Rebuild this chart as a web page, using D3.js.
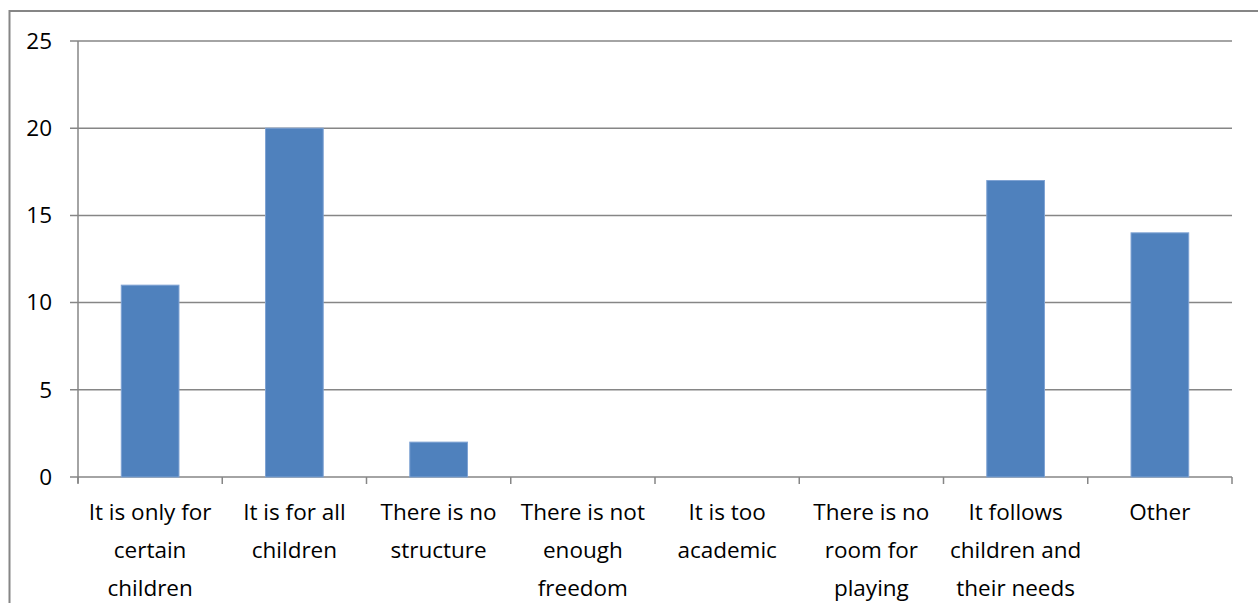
<!DOCTYPE html>
<html><head><meta charset="utf-8">
<script src="https://cdn.jsdelivr.net/npm/d3@7"></script>
<style>body{margin:0;background:#fff}svg{display:block}text{font-family:"Open Sans",sans-serif;fill:#000}</style>
</head><body><svg id="c" width="1258" height="603"></svg>
<script>
const categories = [["It is only for","certain","children"],["It is for all","children"],["There is no","structure"],["There is not","enough","freedom"],["It is too","academic"],["There is no","room for","playing"],["It follows","children and","their needs"],["Other"]];
const values = [11,20,2,0,0,0,17,14];
const yTicks = [0,5,10,15,20,25];

const svg = d3.select("#c");
const L=78,R=1232,T=41,B=477;
const FS=22.5;
svg.append("rect").attr("x",9.5).attr("y",11).attr("width",1260).attr("height",620).attr("fill","none").attr("stroke","#868686").attr("stroke-width",2);
const x = d3.scaleBand().domain(d3.range(categories.length)).range([L,R]).paddingInner(0.6).paddingOuter(0.3);
const xb = d3.scaleBand().domain(d3.range(categories.length)).range([L,R]);
const y = d3.scaleLinear().domain([0,25]).range([B,T]);

const g = svg.append("g");
yTicks.forEach(t=>{
  g.append("line").attr("x1",70).attr("x2",R).attr("y1",y(t)).attr("y2",y(t)).attr("stroke","#868686").attr("stroke-width",1.5);
  g.append("text").attr("x",52).attr("y",y(t)).attr("dy","0.35em").attr("text-anchor","end").attr("font-size",FS).text(t);
});
g.append("line").attr("x1",L).attr("x2",L).attr("y1",T).attr("y2",B+6).attr("stroke","#868686").attr("stroke-width",1.5);
d3.range(categories.length+1).forEach(i=>{
  const xx = i<categories.length? xb(i): R;
  g.append("line").attr("x1",xx).attr("x2",xx).attr("y1",B).attr("y2",B+7).attr("stroke","#868686").attr("stroke-width",1.5);
});
g.selectAll("rect.bar").data(values).join("rect").attr("class","bar")
 .attr("x",(d,i)=>x(i)).attr("width",x.bandwidth())
 .attr("y",d=>y(d)).attr("height",d=>B-y(d))
 .attr("fill","#4F81BD").attr("stroke","#7FA3D3").attr("stroke-width",1);
categories.forEach((c,i)=>{
  const t = g.append("text").attr("x",xb(i)+xb.bandwidth()/2).attr("y",520).attr("text-anchor","middle").attr("font-size",FS);
  c.forEach((s,j)=>t.append("tspan").attr("x",xb(i)+xb.bandwidth()/2).attr("y",520+j*38).text(s));
});
</script></body></html>
